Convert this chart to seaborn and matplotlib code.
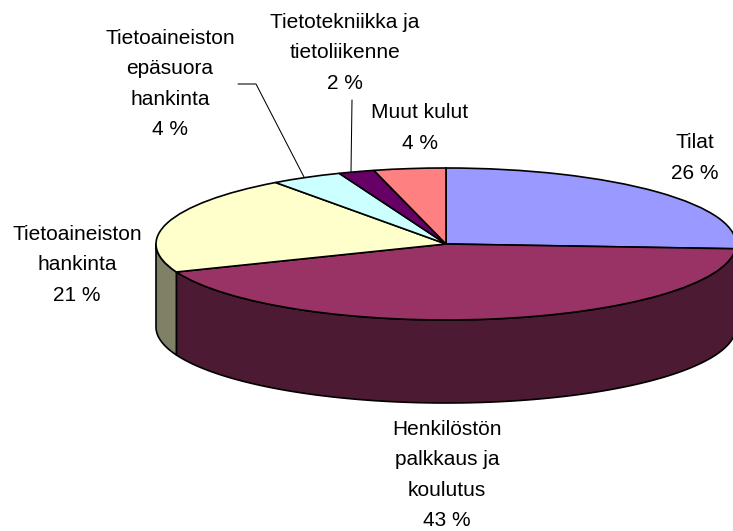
import numpy as np
import matplotlib
matplotlib.use("Agg")
import matplotlib.pyplot as plt
import seaborn as sns

categories = ["Tilat", "Henkilöstön\npalkkaus ja\nkoulutus", "Tietoaineiston\nhankinta",
              "Tietoaineiston\nepäsuora\nhankinta", "Tietotekniikka ja\ntietoliikenne", "Muut kulut"]
values = [26, 43, 21, 4, 2, 4]
colors = ["#9999FF", "#993366", "#FFFFCC", "#CCFFFF", "#660066", "#FF8080"]

W, H = 733, 531
CX, CY, RX, RY, DEPTH = 446, 244, 290, 76, 83


def px(x, y):
    """reference pixel -> data coordinates of the unit pie"""
    return (x - CX) / RX, (CY - y) / RY


label_pos = [(695, 158), (447, 475), (77, 265), (170, 84), (345, 53), (420, 128)]

sns.set_theme(style="white", font="Liberation Sans")
palette = sns.color_palette(colors)
plt.rcParams["font.family"] = ["Liberation Sans", "DejaVu Sans"]

fig = plt.figure(figsize=(W / 100, H / 100), dpi=100)
ax = fig.add_axes([0, 0, 1, 1])

ax.pie(values, colors=palette, startangle=90, counterclock=False, radius=1,
       wedgeprops=dict(edgecolor="black", linewidth=1.2, zorder=3))

# side wall of the cylinder: the part of every slice on the front half
drop = DEPTH / RY
edges = 90 - np.cumsum([0] + values) * 3.6
for i, col in enumerate(palette):
    a1, a2 = max(edges[i + 1] + 360, 180), min(edges[i] + 360, 360)
    if a2 <= a1:
        continue
    t = np.radians(np.linspace(a1, a2, 120))
    xs = np.r_[np.cos(t), np.cos(t[::-1])]
    ys = np.r_[np.sin(t), np.sin(t[::-1]) - drop]
    ax.fill(xs, ys, facecolor=np.array(col) / 2, edgecolor="black",
            linewidth=1.2, joinstyle="round", zorder=2)

for name, v, pos in zip(categories, values, label_pos):
    x, y = px(*pos)
    ax.text(x, y, f"{name}\n{v} %", ha="center", va="center", fontsize=15,
            linespacing=1.76, color="black", zorder=5)

for pts in ([(238, 84), (256, 84), (304, 177)], [(352, 100), (351, 172)]):
    xy = np.array([px(*p) for p in pts])
    ax.plot(xy[:, 0], xy[:, 1], color="black", lw=0.75, zorder=4)

ax.set_aspect("auto")
ax.set_xlim(px(0, 0)[0], px(W, 0)[0])
ax.set_ylim(px(0, H)[1], px(0, 0)[1])
ax.axis("off")
fig.savefig("out.png", dpi=100, facecolor="white")
